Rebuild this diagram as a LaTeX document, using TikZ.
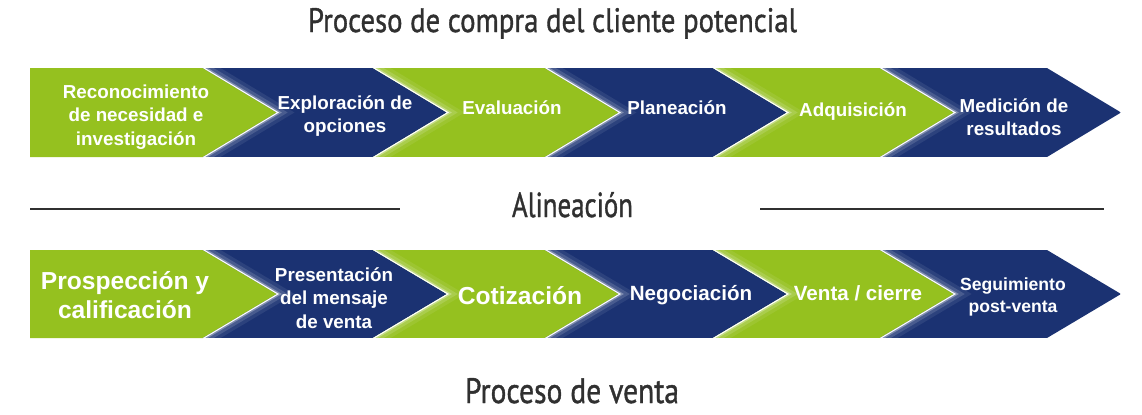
\documentclass[tikz,border=0pt]{standalone}
\usepackage{graphicx}
\usepackage{fontspec}
\setmainfont{Liberation Sans}
\newfontfamily\headfont[FakeBold=1.2]{PT Sans}
\definecolor{chgreen}{RGB}{149,193,31}
\definecolor{chblue}{RGB}{27,50,114}
\definecolor{headgray}{RGB}{48,48,48}
\tikzset{
    steptext/.style={text=white, align=center, inner sep=0pt,
        font=\bfseries\fontsize{9.4}{11.6}\selectfont},
    midtext/.style={steptext, font=\bfseries\fontsize{10.3}{12}\selectfont},
    smalltext/.style={steptext, font=\bfseries\fontsize{8.8}{10.8}\selectfont},
    bigtext/.style={steptext, font=\bfseries\fontsize{12.3}{14.5}\selectfont},
    headtext/.style={text=headgray, inner sep=0pt, anchor=base, font=\headfont},
    rule/.style={draw=headgray, line width=1.25pt},
}

\begin{document}
\begin{tikzpicture}[x=0.5pt, y=-0.5pt]
    \useasboundingbox (0,0) rectangle (1142,414);
    % chevron rows
    \foreach \T/\B in {68/157, 250/338}{
        \pgfmathsetmacro\M{(\T+\B)/2}
        \fill[chgreen] (30,\T) -- (203,\T) -- (277,\M) -- (203,\B) -- (30,\B) -- cycle;
        \foreach \L/\R/\col in {203/373/chblue, 373/545/chgreen, 545/713/chblue,
                                713/880/chgreen, 880/1047/chblue}{
            \begin{scope}
                \path[clip] (\L,\T) -- (\R,\T) -- (\R+74,\M) -- (\R,\B)
                    -- (\L,\B) -- (\L+74,\M) -- cycle;
                \fill[\col] (\L,\T) rectangle (\R+74,\B);
                \draw[white, opacity=0.08, line width=9pt] (\L,\T) -- (\L+74,\M) -- (\L,\B);
                \draw[white, opacity=0.14, line width=5.5pt] (\L,\T) -- (\L+74,\M) -- (\L,\B);
                \draw[white, opacity=0.3, line width=2.5pt] (\L,\T) -- (\L+74,\M) -- (\L,\B);
                \draw[white, line width=1pt] (\L,\T) -- (\L+74,\M) -- (\L,\B);
            \end{scope}
        }
    }
    % buying process
    \node[steptext] (recon) at (136,117) {Reconocimiento\\de necesidad e\\investigación};
    \node[steptext] (explor) at (345,116) {Exploración de\\opciones};
    \node[steptext] (evalua) at (512,108) {Evaluación};
    \node[steptext] (planea) at (677,108) {Planeación};
    \node[steptext] (adquis) at (853,112) {Adquisición};
    \node[steptext] (medic) at (1014,117) {Medición de\\resultados};
    % sales process
    \node[bigtext] (prosp) at (125,295) {Prospección y\\calificación};
    \node[steptext] (present) at (334,298) {Presentación\\del mensaje\\de venta};
    \node[bigtext] (cotiz) at (520,296) {Cotización};
    \node[midtext] (negoc) at (691,295) {Negociación};
    \node[midtext] (cierre) at (858,293) {Venta / cierre};
    \node[smalltext] (segui) at (1013,297) {Seguimiento\\post-venta};
    % headings
    \node[headtext] (compra) at (552.5,32)
        {\resizebox{244.5pt}{12pt}{Proceso de compra del cliente potencial}};
    \node[headtext] (alinea) at (572.5,217) {\resizebox{60.5pt}{12.5pt}{Alineación}};
    \node[headtext] (venta) at (572,403) {\resizebox{107pt}{12.5pt}{Proceso de venta}};
    \draw[rule] (30,209) -- (400,209);
    \draw[rule] (760,209) -- (1104,209);
\end{tikzpicture}
\end{document}
